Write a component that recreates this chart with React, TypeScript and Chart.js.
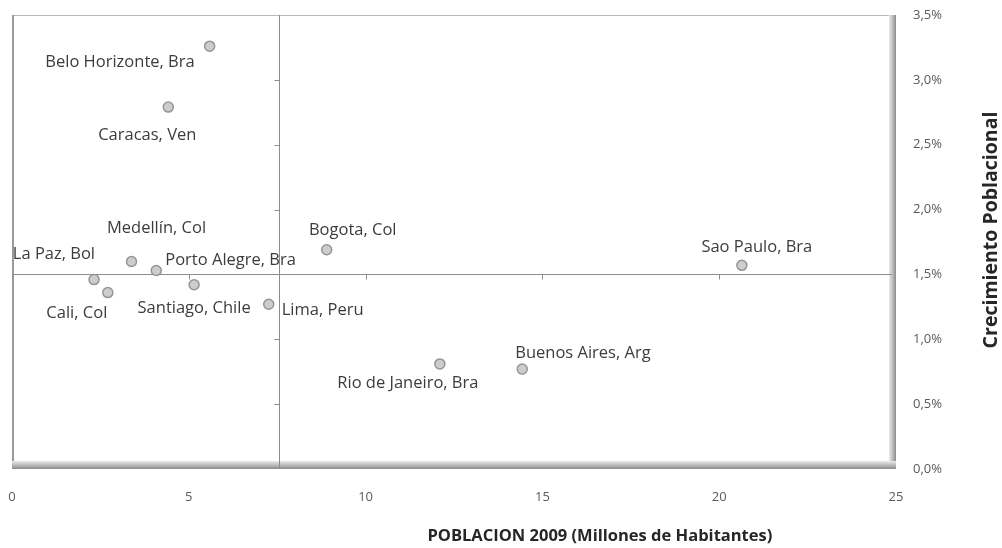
import React, { useEffect, useRef } from "react";
import { Chart, registerables } from "chart.js";

Chart.register(...registerables);

// ---- data ----
const cities = [
  "Belo Horizonte, Bra",
  "Caracas, Ven",
  "Medellín, Col",
  "La Paz, Bol",
  "Cali, Col",
  "Porto Alegre, Bra",
  "Santiago, Chile",
  "Lima, Peru",
  "Bogota, Col",
  "Sao Paulo, Bra",
  "Rio de Janeiro, Bra",
  "Buenos Aires, Arg",
];
const population = [5.59, 4.42, 3.38, 2.32, 2.71, 4.08, 5.15, 7.26, 8.9, 20.64, 12.1, 14.43];
const growth = [3.26, 2.79, 1.6, 1.46, 1.36, 1.53, 1.42, 1.27, 1.69, 1.57, 0.81, 0.77];
const xTickValues = [0, 5, 10, 15, 20, 25];
const yTickLabels = ["0,0%", "0,5%", "1,0%", "1,5%", "2,0%", "2,5%", "3,0%", "3,5%"];
const xCross = 7.55; // average population (vertical reference line)
const yCross = 1.5; // horizontal reference line
const xTitle = "POBLACION 2009 (Millones de Habitantes)";
const yTitle = "Crecimiento Poblacional";

// label placement: [align, dx, dy] relative to the point centre
const labelPlacement: [CanvasTextAlign, number, number][] = [
  ["right", -15, 16],
  ["center", -21, 28],
  ["center", 25, -33],
  ["right", 1, -25],
  ["center", -31, 21],
  ["left", 9, -10],
  ["center", 0, 23],
  ["left", 13, 6],
  ["center", 26, -19],
  ["center", 15, -18],
  ["center", -32, 19],
  ["left", -7, -16],
];

const FONT = "'Open Sans', 'DejaVu Sans', sans-serif";

const decorPlugin = {
  id: "decor",
  beforeDatasetsDraw(chart: any) {
    const { ctx, chartArea: a, scales } = chart;
    const xs = scales.x;
    const ys = scales.y;
    ctx.save();
    ctx.fillStyle = "#ffffff";
    ctx.fillRect(a.left, a.top, a.right - a.left, a.bottom - a.top);
    ctx.strokeStyle = "#b8b8b8";
    ctx.lineWidth = 1;
    ctx.beginPath();
    ctx.moveTo(a.left, a.top + 0.5);
    ctx.lineTo(a.right, a.top + 0.5);
    ctx.stroke();
    ctx.strokeStyle = "#9a9a9a";
    ctx.lineWidth = 2;
    ctx.beginPath();
    ctx.moveTo(a.left + 1, a.top);
    ctx.lineTo(a.left + 1, a.bottom);
    ctx.stroke();
    let g = ctx.createLinearGradient(a.right - 7, 0, a.right, 0);
    g.addColorStop(0, "rgba(235,235,235,1)");
    g.addColorStop(0.6, "#b4b4b4");
    g.addColorStop(1, "#8a8a8a");
    ctx.fillStyle = g;
    ctx.fillRect(a.right - 7, a.top, 7, a.bottom - a.top);
    g = ctx.createLinearGradient(0, a.bottom - 8, 0, a.bottom);
    g.addColorStop(0, "rgba(235,235,235,1)");
    g.addColorStop(0.6, "#b4b4b4");
    g.addColorStop(1, "#8a8a8a");
    ctx.fillStyle = g;
    ctx.fillRect(a.left, a.bottom - 8, a.right - a.left, 8);

    const cx = Math.round(xs.getPixelForValue(xCross)) + 0.5;
    const cy = Math.round(ys.getPixelForValue(yCross)) + 0.5;
    ctx.strokeStyle = "#8c8c8c";
    ctx.lineWidth = 1;
    ctx.beginPath();
    ctx.moveTo(cx, a.top);
    ctx.lineTo(cx, a.bottom);
    ctx.moveTo(a.left, cy);
    ctx.lineTo(a.right - 4, cy);
    ctx.stroke();
    ctx.beginPath();
    for (let v = 0.5; v < 3.5; v += 0.5) {
      const y = Math.round(ys.getPixelForValue(v)) + 0.5;
      ctx.moveTo(cx - 5, y);
      ctx.lineTo(cx, y);
    }
    for (const v of xTickValues) {
      if (v === 0 || v === 25) continue;
      const x = Math.round(xs.getPixelForValue(v)) + 0.5;
      ctx.moveTo(x, cy);
      ctx.lineTo(x, cy + 5);
    }
    ctx.stroke();
    ctx.restore();
  },
  afterDatasetsDraw(chart: any) {
    const { ctx, chartArea: a } = chart;
    const meta = chart.getDatasetMeta(0);
    ctx.save();
    ctx.font = `16.5px ${FONT}`;
    ctx.fillStyle = "#3c3c3c";
    ctx.textBaseline = "middle";
    meta.data.forEach((pt: any, i: number) => {
      const [align, dx, dy] = labelPlacement[i];
      ctx.textAlign = align;
      ctx.fillText(cities[i], pt.x + dx, pt.y + dy);
    });
    ctx.font = `bold 16.5px ${FONT}`;
    ctx.fillStyle = "#262626";
    ctx.textAlign = "center";
    ctx.fillText(xTitle, a.left + (a.right - a.left) * 0.665, a.bottom + 67);
    ctx.font = `bold 19.5px ${FONT}`;
    ctx.translate(a.right + 95, a.top + 215);
    ctx.rotate(-Math.PI / 2);
    ctx.fillText(yTitle, 0, 0);
    ctx.restore();
  },
};

const hiddenGrid = (len: number) => ({
  display: true,
  drawOnChartArea: false,
  drawTicks: true,
  tickLength: len,
  color: "rgba(0,0,0,0)",
  tickColor: "rgba(0,0,0,0)",
});

export default function App() {
  const ref = useRef<HTMLCanvasElement>(null);
  useEffect(() => {
    if (!ref.current) return;
    const chart = new Chart(ref.current, {
      type: "scatter",
      data: {
        datasets: [
          {
            data: population.map((x, i) => ({ x, y: growth[i] })),
            pointRadius: 5,
            pointHoverRadius: 5,
            backgroundColor: "#cdcdcd",
            borderColor: "#959595",
            borderWidth: 1.5,
          },
        ],
      },
      options: {
        responsive: true,
        maintainAspectRatio: false,
        animation: false,
        layout: { padding: { left: 12, top: 15, right: 0, bottom: 0 } },
        plugins: { legend: { display: false }, tooltip: { enabled: false } },
        scales: {
          x: {
            type: "linear",
            min: 0,
            max: 25,
            afterBuildTicks: (s: any) => {
              s.ticks = xTickValues.map((v) => ({ value: v }));
            },
            ticks: {
              color: "#5a5a5a",
              font: { family: FONT, size: 13 },
              padding: 0,
              maxRotation: 0,
            },
            grid: hiddenGrid(20),
            border: { display: false },
            afterFit: (s: any) => {
              s.height = 79;
            },
          },
          y: {
            type: "linear",
            position: "right",
            min: 0,
            max: 3.5,
            ticks: {
              stepSize: 0.5,
              color: "#5a5a5a",
              font: { family: FONT, size: 13 },
              padding: 0,
              callback: (v: any) => yTickLabels[Math.round(Number(v) / 0.5)],
            },
            grid: hiddenGrid(17),
            border: { display: false },
            afterFit: (s: any) => {
              s.width = 106;
            },
          },
        },
      },
      plugins: [decorPlugin],
    });
    return () => chart.destroy();
  }, []);
  return (
    <div style={{ position: "absolute", left: 0, top: 0, width: 1002, height: 548, background: "#fff" }}>
      <canvas ref={ref} />
    </div>
  );
}
